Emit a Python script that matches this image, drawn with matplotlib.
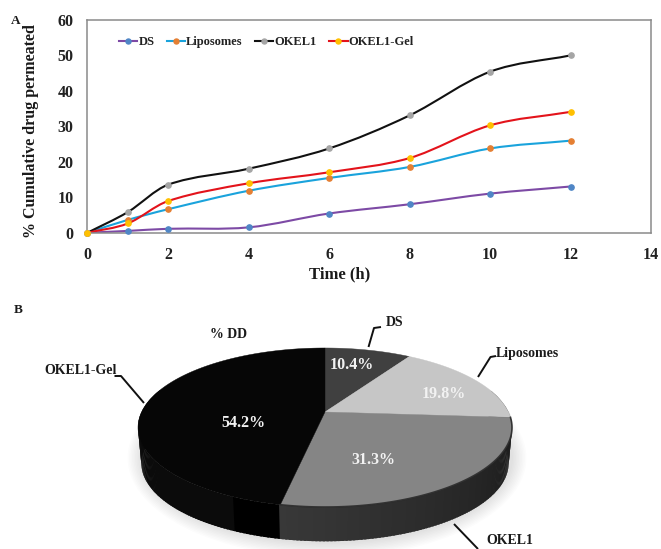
import numpy as np
import matplotlib
matplotlib.use("Agg")
import matplotlib.pyplot as plt
from matplotlib.path import Path
from matplotlib.patches import PathPatch, Polygon, Ellipse
from matplotlib.lines import Line2D

plt.rcParams['font.family'] = ['Liberation Serif', 'DejaVu Serif']

# ---- data ----
time_h = [0, 1, 2, 4, 6, 8, 10, 12]
ds = [0, 0.5, 1.1, 1.5, 5.4, 8.0, 11.0, 13.0]
liposomes = [0, 3.6, 6.6, 11.8, 15.4, 18.5, 23.7, 25.9]
okel1 = [0, 5.8, 13.5, 18.0, 23.7, 33.0, 45.3, 49.9]
okel1_gel = [0, 2.6, 8.9, 13.9, 17.0, 21.0, 30.2, 34.0]
series_names = ['DS', 'Liposomes', 'OKEL1', 'OKEL1-Gel']
xticks = [0, 2, 4, 6, 8, 10, 12, 14]
yticks = [0, 10, 20, 30, 40, 50, 60]
pie_names = ['DS', 'Liposomes', 'OKEL1', 'OKEL1-Gel']
pie_values = [10.4, 19.8, 31.3, 54.2]
pie_labels = ['10.4%', '19.8%', '31.3%', '54.2%']

W, H = 661, 549
fig = plt.figure(figsize=(W / 100, H / 100), dpi=100, facecolor='white')

# ---- panel A ----
L, R, T, B = 87.5, 651, 19.5, 232.7
ax = fig.add_axes([L / W, 1 - B / H, (R - L) / W, (B - T) / H])
ax.set_xlim(0, 14)
ax.set_ylim(0, 60)
for s in ax.spines.values():
    s.set_color('#8a8a8a')
    s.set_linewidth(1.1)
ax.set_xticks(xticks)
ax.set_yticks(yticks)
ax.tick_params(axis='x', length=0, pad=10, labelsize=11.5)
ax.tick_params(axis='y', length=0, pad=10, labelsize=11.5)
for t in ax.get_xticklabels() + ax.get_yticklabels():
    t.set_fontweight('bold')
    t.set_color('#222222')


def smooth(ax, xs, ys, color, lw):
    xs, ys = np.asarray(xs, float), np.asarray(ys, float)
    verts = [(xs[0], ys[0])]
    codes = [Path.MOVETO]
    n = len(xs)
    for i in range(n - 1):
        h = xs[i + 1] - xs[i]
        def slope(j):
            a, b = max(j - 1, 0), min(j + 1, n - 1)
            return (ys[b] - ys[a]) / (xs[b] - xs[a])
        verts += [(xs[i] + h / 3, ys[i] + slope(i) * h / 3),
                  (xs[i + 1] - h / 3, ys[i + 1] - slope(i + 1) * h / 3),
                  (xs[i + 1], ys[i + 1])]
        codes += [Path.CURVE4] * 3
    ax.add_patch(PathPatch(Path(verts, codes), fc='none', ec=color, lw=lw, capstyle='round'))


styles = [(ds, '#7d4aa5', '#4f86c6'),
          (liposomes, '#1aa3dc', '#e57f32'),
          (okel1, '#111111', '#a5a5a5'),
          (okel1_gel, '#e3131b', '#ffc000')]
handles = []
for (vals, lc, mc), name in zip(styles, series_names):
    smooth(ax, time_h, vals, lc, 1.5)
    ax.plot(time_h, vals, ls='none', marker='o', ms=3.8, mfc=mc, mec=mc, zorder=4, clip_on=False)
    handles.append(Line2D([], [], color=lc, lw=1.5, marker='o', ms=3.6, mfc=mc, mec=mc))
ax.legend(handles, series_names, loc='upper left', bbox_to_anchor=(0.036, 0.975), ncol=4,
          frameon=False, handlelength=1.45, handletextpad=0.1, columnspacing=1.0,
          borderpad=0.4, prop={'family': 'Liberation Serif', 'weight': 'bold', 'size': 9.0},
          labelcolor='#222222')

# ---- page overlay (pixel coordinates) for panel B and free labels ----
ov = fig.add_axes([0, 0, 1, 1], zorder=5)
ov.set_xlim(0, W)
ov.set_ylim(H, 0)
ov.axis('off')
ov.patch.set_alpha(0)


def txt(x, y, s, size=10, color='#1a1a1a', **kw):
    ov.text(x, y, s, fontsize=size, color=color, fontweight='bold', ha='center', va='center', **kw)


txt(16, 21, 'A', 9.5)
txt(18, 310, 'B', 9.5)
txt(31, 131, '% Cumulative drug permeated', 11.5, rotation=90)
txt(340, 274, 'Time (h)', 12)

# ---- 3D pie: slices come from the normalised values, seen in perspective ----
CX, CY, A_, B_, K, DEPTH, SHRINK = 325, 412, 183.4, 76.5, 0.195, 36, 0.982
fracs = np.asarray(pie_values) / np.sum(pie_values)
edges = np.concatenate([[0], np.cumsum(fracs)]) * 2 * np.pi  # clockwise from top


def project(theta, r=1.0, down=0.0, scale=1.0):
    u, v = r * np.sin(theta), r * np.cos(theta)
    w = 1 + K * v
    return CX + scale * A_ * u / w, CY + down + scale * B_ * v * -1 / w


# soft shadow
for i in range(10):
    ov.add_patch(Ellipse((CX + 2, 452 + 6), 372 + i * 3, 172 + i * 3, fc='#000000', alpha=0.012, ec='none', zorder=1))

# side wall
sweep = np.linspace(np.pi / 2 - 0.3, 3 * np.pi / 2 + 0.3, 221)
okel_end = edges[3]
for a, b in zip(sweep[:-1], sweep[1:]):
    m = 0.5 * (a + b)
    if m < okel_end:
        f = np.clip((okel_end - m) / (okel_end - np.pi / 2), 0, 1)  # 0 at the slice start, 1 at the right
        g = 0.22 - 0.13 * f
    else:
        d = (m - okel_end) / (3 * np.pi / 2 - okel_end)
        g = 0.0 if d < 0.17 else 0.045
    col = (g, g, g)
    x1, y1 = project(a)
    x2, y2 = project(b + 0.01)
    x3, y3 = project(b + 0.01, down=DEPTH, scale=SHRINK)
    x4, y4 = project(a, down=DEPTH, scale=SHRINK)
    ov.add_patch(Polygon([(x1, y1), (x2, y2), (x3, y3), (x4, y4)], fc=col, ec='none', zorder=2))

# top face
colors = ['#404040', '#c6c6c6', '#858585', '#060606']
for i, c in enumerate(colors):
    th = np.linspace(edges[i], edges[i + 1], 120)
    px, py = project(th)
    ov.add_patch(Polygon(np.r_[[(CX, CY)], np.c_[px, py]], fc=c, ec=c, lw=0.3, zorder=3))

# rim of the bevel
th = np.linspace(edges[2], np.pi / 2, 80)
ov.plot(*project(th), color='#c8c8c8', lw=1.1, alpha=0.55, zorder=4)
th = np.linspace(edges[3], edges[2], 80)
ov.plot(*project(th), color='#2a2a2a', lw=1.2, alpha=0.9, zorder=4)

# slice labels
for (x, y), s in zip([(352, 365), (444, 394), (373, 460), (243, 423)], pie_labels):
    txt(x, y, s, 11.5, color='#f2f2f2', zorder=6)

# leader lines and names
leaders = [([368.5, 374, 381], [347, 328, 327]),
           ([478, 490.5, 496], [377, 357, 356]),
           ([454, 478], [524, 549]),
           ([144, 121, 114.5], [403, 376, 376])]
for xs, ys in leaders:
    ov.plot(xs, ys, color='#111111', lw=1.4, zorder=6, solid_capstyle='butt')
for (x, y), s in zip([(395, 323), (527, 353), (510, 541), (81, 370)], pie_names):
    txt(x, y, s, 10, zorder=6)
txt(229, 335, '% DD', 10)

fig.savefig('out.png', dpi=100, facecolor='white')
